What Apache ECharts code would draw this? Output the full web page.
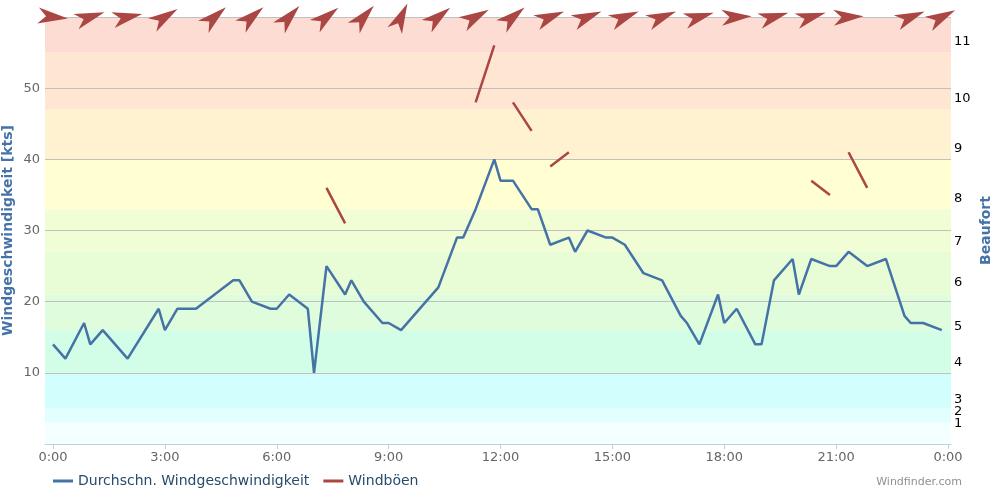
<!DOCTYPE html>
<html>
<head>
<meta charset="utf-8">
<script src="https://cdn.jsdelivr.net/npm/echarts@6/dist/echarts.min.js"></script>
<style>
html,body{margin:0;padding:0;background:#fff;}
#chart{width:993px;height:495px;}
</style>
</head>
<body>
<div id="chart"></div>
<script>
// ---- data ----
const speedTimes = ["0:00","0:20","0:50","1:00","1:20","2:00","2:50","3:00","3:20","3:50",
  "4:50","5:00","5:20","5:50","6:00","6:20","6:50","7:00","7:20","7:50",
  "8:00","8:20","8:50","9:00","9:20","10:20","10:50","11:00","11:20","11:50",
  "12:00","12:20","12:50","13:00","13:20","13:50","14:00","14:20","14:50","15:00",
  "15:20","15:50","16:20","16:50","17:00","17:20","17:50","18:00","18:20","18:50",
  "19:00","19:20","19:50","20:00","20:20","20:50","21:00","21:20","21:50","22:20",
  "22:50","23:00","23:20","23:50"];
const speedValues = [14,12,17,14,16,12,19,16,19,19,
  23,23,20,19,19,21,19,10,25,21,
  23,20,17,17,16,22,29,29,33,40,
  37,37,33,33,28,29,27,30,29,29,
  28,24,23,18,17,14,21,17,19,14,
  14,23,26,21,26,25,25,27,25,26,
  18,17,17,16];
const gustValues = [null,null,null,null,null,null,null,null,null,null,
  null,null,null,null,null,null,null,null,36,31,
  null,null,null,null,null,null,null,null,48,56,
  null,48,44,null,39,41,null,null,null,null,
  null,null,null,null,null,null,null,null,null,null,
  null,null,null,null,37,35,null,41,36,null,
  null,null,null,null];
const arrowTimes = ["0:00","1:00","2:00","3:00","4:20","5:20","6:20","7:20","8:20","9:20",
  "10:20","11:20","12:20","13:20","14:20","15:20","16:20","17:20","18:20","19:20",
  "20:20","21:20","23:00","23:50"];
const arrowAngles = [-6,18,12,32,41,40,47,38,48,65,
  38,29,39,22,22,22,22,16,3,16,
  16,3,22,27];
const xTickHours = [0,3,6,9,12,15,18,21,24];
const xTickLabels = ["0:00","3:00","6:00","9:00","12:00","15:00","18:00","21:00","0:00"];
const yTickValues = [10,20,30,40,50];
const bftPositions = [2.8,4.5,6.2,11.4,16.5,22.7,28.5,34.5,41.5,48.6,56.6];
const bftLabels = ["1","2","3","4","5","6","7","8","9","10","11"];
const bandFrom = [0,3,5,10,16,21,27,33,40,47,55];
const bandTo   = [3,5,10,16,21,27,33,40,47,55,60];
const bandColors = ["#F4FFFF","#E3FEFE","#D2FEFE","#D2FDE6","#DFFDDC","#E8FDD6","#F1FDD5","#FFFFD2","#FEF2D0","#FEE6D2","#FDDDD3"];

// ---- helpers ----
function hours(t){ const p = t.split(":"); return +p[0] + (+p[1])/60; }
const FONT = "DejaVu Sans";
const arrowPath = "path://M0,0 L30,8 L0,16 L8,8 Z";
// an empty label at the axis minimum keeps ECharts' min-label overlap rule away from "1"/"2"
const bftLabelValues = [0].concat(bftPositions);
function bftFormatter(v){ const i = bftPositions.indexOf(v); return i < 0 ? "" : bftLabels[i]; }

const chart = echarts.init(document.getElementById("chart"));
const option = {
  animation: false,
  backgroundColor: "#ffffff",
  grid: {left: 45, right: 42, top: 17, bottom: 51, containLabel: false, outerBoundsMode: "none"},
  legend: {
    data: [{name: "Durchschn. Windgeschwindigkeit", icon: "rect"}, {name: "Windböen", icon: "rect"}],
    left: 48, top: 469, itemWidth: 20, itemHeight: 3, itemGap: 14,
    textStyle: {color: "#274b6d", fontSize: 14, fontFamily: FONT}
  },
  xAxis: {
    type: "value", min: -0.2145, max: 24.08, z: 1,
    axisLine: {lineStyle: {color: "#C0D0E0", width: 1}},
    axisTick: {customValues: xTickHours, length: 5, lineStyle: {color: "#C0D0E0"}},
    axisLabel: {customValues: xTickHours, formatter: v => xTickLabels[xTickHours.indexOf(v)],
      color: "#666666", fontSize: 13, fontFamily: FONT, margin: 7, hideOverlap: false,
      showMinLabel: true, showMaxLabel: true},
    splitLine: {show: false}
  },
  yAxis: [{
    type: "value", min: 0, max: 60, interval: 10, z: 1,
    axisLine: {show: false}, axisTick: {show: false},
    axisLabel: {customValues: yTickValues, color: "#666666", fontSize: 13, fontFamily: FONT, margin: 5},
    splitLine: {lineStyle: {color: "#C0C0C0", width: 1}},
    name: "Windgeschwindigkeit [kts]", nameLocation: "middle", nameGap: 30, nameMoveOverlap: false,
    nameTextStyle: {color: "#4572A7", fontWeight: "bold", fontSize: 14, fontFamily: FONT}
  }, {
    type: "value", min: 0, max: 60, position: "right", z: 1,
    axisLine: {show: false}, axisTick: {show: false}, splitLine: {show: false},
    axisLabel: {customValues: bftLabelValues, formatter: bftFormatter,
      color: "#000000", fontSize: 13, lineHeight: 9, fontFamily: FONT, margin: 3, hideOverlap: false},
    name: "Beaufort", nameLocation: "middle", nameGap: 28, nameMoveOverlap: false,
    nameTextStyle: {color: "#4572A7", fontWeight: "bold", fontSize: 14, fontFamily: FONT}
  }],
  series: [{
    type: "custom", z: 0, silent: true,
    data: bandFrom.map((f, i) => [0, f, bandTo[i], i]),
    encode: {x: 0, y: [1, 2]},
    renderItem: function (params, api) {
      const cs = params.coordSys;
      const yTop = api.coord([0, api.value(2)])[1];
      const yBot = api.coord([0, api.value(1)])[1];
      return {type: "rect", shape: {x: cs.x, y: yTop, width: cs.width, height: yBot - yTop},
        style: {fill: bandColors[api.value(3)]}};
    }
  }, {
    name: "Durchschn. Windgeschwindigkeit", type: "line", z: 3,
    data: speedTimes.map((t, i) => [hours(t), speedValues[i]]),
    showSymbol: false, symbol: "none",
    lineStyle: {color: "#4572A7", width: 2.5}, itemStyle: {color: "#4572A7"}
  }, {
    name: "Windböen", type: "line", z: 3, connectNulls: false,
    data: speedTimes.map((t, i) => [hours(t), gustValues[i] === null ? null : gustValues[i]]),
    showSymbol: false, symbol: "none",
    lineStyle: {color: "#AA4643", width: 2.5}, itemStyle: {color: "#AA4643"}
  }, {
    type: "scatter", z: 5, clip: false, silent: true,
    symbol: arrowPath, symbolSize: [30, 16],
    data: arrowTimes.map((t, i) => ({value: [hours(t), 60], symbolRotate: arrowAngles[i]})),
    itemStyle: {color: "#AA4643", opacity: 1}
  }],
  graphic: [{
    type: "text", right: 31, top: 477,
    style: {text: "Windfinder.com", fill: "#909090", font: "11px DejaVu Sans"}
  }]
};
chart.setOption(option);
</script>
</body>
</html>
